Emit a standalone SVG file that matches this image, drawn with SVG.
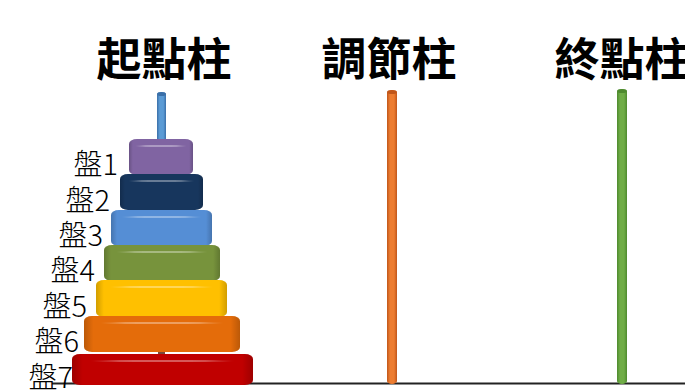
<svg xmlns="http://www.w3.org/2000/svg" width="685" height="392" viewBox="0 0 685 392">
  <defs>
    <style>
      .title { font-family: "Noto Sans CJK TC", "Noto Sans CJK SC", sans-serif; font-size: 45px; font-weight: 700; fill: #000; text-anchor: middle; }
      .label { font-family: "Noto Sans CJK TC", "Noto Sans CJK SC", sans-serif; font-size: 29px; font-weight: 300; fill: #000; text-anchor: end; }
      .shade { fill: url(#sideShade); }
      .gloss { fill: url(#gloss); }
    </style>
    <!-- darkens the left and right edges of a cylinder -->
    <linearGradient id="sideShade" x1="0" y1="0" x2="1" y2="0">
      <stop offset="0" stop-color="#000" stop-opacity="0.18"/>
      <stop offset="0.06" stop-color="#000" stop-opacity="0"/>
      <stop offset="0.94" stop-color="#000" stop-opacity="0"/>
      <stop offset="1" stop-color="#000" stop-opacity="0.18"/>
    </linearGradient>
    <!-- thin highlight across the top face of a disk -->
    <linearGradient id="gloss" x1="0" y1="0" x2="1" y2="0">
      <stop offset="0" stop-color="#fff" stop-opacity="0"/>
      <stop offset="0.2" stop-color="#fff" stop-opacity="0.35"/>
      <stop offset="0.8" stop-color="#fff" stop-opacity="0.35"/>
      <stop offset="1" stop-color="#fff" stop-opacity="0"/>
    </linearGradient>
    <linearGradient id="pegBlue" x1="0" y1="0" x2="1" y2="0">
      <stop offset="0" stop-color="#3a6fa8"/>
      <stop offset="0.3" stop-color="#5b9bd5"/>
      <stop offset="0.7" stop-color="#5b9bd5"/>
      <stop offset="1" stop-color="#3a6fa8"/>
    </linearGradient>
    <linearGradient id="pegOrange" x1="0" y1="0" x2="1" y2="0">
      <stop offset="0" stop-color="#c0561a"/>
      <stop offset="0.3" stop-color="#ed7d31"/>
      <stop offset="0.7" stop-color="#ed7d31"/>
      <stop offset="1" stop-color="#c0561a"/>
    </linearGradient>
    <linearGradient id="pegGreen" x1="0" y1="0" x2="1" y2="0">
      <stop offset="0" stop-color="#4e8a2e"/>
      <stop offset="0.3" stop-color="#70ad47"/>
      <stop offset="0.7" stop-color="#70ad47"/>
      <stop offset="1" stop-color="#4e8a2e"/>
    </linearGradient>
  </defs>

  <rect width="685" height="392" fill="#fff"/>

  <!-- column titles -->
  <g id="title-start"><text class="title" x="164" y="76">起點柱</text></g>
  <g id="title-aux"><text class="title" x="389" y="76">調節柱</text></g>
  <g id="title-end"><text class="title" x="622" y="76">終點柱</text></g>

  <!-- ground line -->
  <g id="base">
    <line x1="52" y1="383.5" x2="685" y2="383.5" stroke="#222" stroke-width="2"/>
  </g>

  <!-- pegs -->
  <g id="peg-start">
    <rect x="157" y="92" width="9" height="52" rx="4.5" ry="3" fill="url(#pegBlue)"/>
    <ellipse cx="161.5" cy="94" rx="4.5" ry="2" fill="#3a6fa8"/>
    <rect x="158" y="350" width="7" height="6" fill="#7a4a3a"/>
  </g>
  <g id="peg-aux">
    <rect x="387" y="90" width="10" height="294" rx="5" ry="3" fill="url(#pegOrange)"/>
    <ellipse cx="392" cy="92" rx="5" ry="2" fill="#c0561a"/>
  </g>
  <g id="peg-end">
    <rect x="617" y="89" width="10" height="295" rx="5" ry="3" fill="url(#pegGreen)"/>
    <ellipse cx="622" cy="91" rx="5" ry="2" fill="#4e8a2e"/>
  </g>

  <!-- disks, smallest on top -->
  <g id="disk1">
    <rect x="129" y="139" width="64" height="36" rx="8" ry="5" fill="#8064a2"/>
    <rect class="shade" x="129" y="139" width="64" height="36" rx="8" ry="5"/>
    <ellipse class="gloss" cx="161" cy="146" rx="26" ry="1"/>
  </g>
  <g id="disk2">
    <rect x="120" y="174" width="83" height="36" rx="8" ry="5" fill="#17365d"/>
    <rect class="shade" x="120" y="174" width="83" height="36" rx="8" ry="5"/>
    <ellipse class="gloss" cx="161.5" cy="181" rx="33" ry="1"/>
  </g>
  <g id="disk3">
    <rect x="111" y="210" width="101" height="36" rx="8" ry="5" fill="#558ed5"/>
    <rect class="shade" x="111" y="210" width="101" height="36" rx="8" ry="5"/>
    <ellipse class="gloss" cx="161.5" cy="217" rx="40" ry="1"/>
  </g>
  <g id="disk4">
    <rect x="104" y="245" width="116" height="36" rx="8" ry="5" fill="#77933c"/>
    <rect class="shade" x="104" y="245" width="116" height="36" rx="8" ry="5"/>
    <ellipse class="gloss" cx="162" cy="252" rx="46" ry="1"/>
  </g>
  <g id="disk5">
    <rect x="96" y="280" width="131" height="37" rx="8" ry="5" fill="#ffc000"/>
    <rect class="shade" x="96" y="280" width="131" height="37" rx="8" ry="5"/>
    <ellipse class="gloss" cx="161.5" cy="287" rx="52" ry="1"/>
  </g>
  <g id="disk6">
    <rect x="84" y="316" width="156" height="36" rx="8" ry="5" fill="#e46c0a"/>
    <rect class="shade" x="84" y="316" width="156" height="36" rx="8" ry="5"/>
    <ellipse class="gloss" cx="162" cy="323" rx="62" ry="1"/>
  </g>
  <g id="disk7">
    <rect x="72" y="354" width="181" height="31" rx="8" ry="5" fill="#c00000"/>
    <rect class="shade" x="72" y="354" width="181" height="31" rx="8" ry="5"/>
    <ellipse class="gloss" cx="162.5" cy="361" rx="72" ry="1"/>
  </g>

  <!-- disk labels -->
  <g id="label1"><text class="label" x="118" y="175">盤1</text></g>
  <g id="label2"><text class="label" x="110" y="211">盤2</text></g>
  <g id="label3"><text class="label" x="103" y="246">盤3</text></g>
  <g id="label4"><text class="label" x="95" y="281">盤4</text></g>
  <g id="label5"><text class="label" x="87" y="317">盤5</text></g>
  <g id="label6"><text class="label" x="79" y="352">盤6</text></g>
  <g id="label7"><text class="label" x="73" y="388">盤7</text></g>

  <g id="connectors"></g>
</svg>
